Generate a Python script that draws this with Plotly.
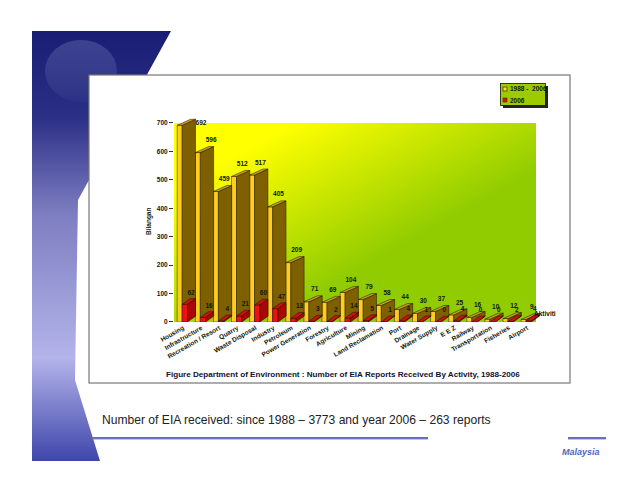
import base64
import plotly.graph_objects as go

categories = ["Housing", "Infrastructure", "Recreation / Resort", "Quarry", "Waste Disposal",
              "Industry", "Petroleum", "Power Generation", "Forestry", "Agriculture", "Mining",
              "Land Reclamation", "Port", "Drainage", "Water Supply", "E E Z", "Railway",
              "Transportation", "Fisheries", "Airport"]
total_1988_2006 = [692, 596, 459, 512, 517, 405, 209, 71, 69, 104, 79, 58, 44, 30, 37, 25, 16, 10, 12, 9]
year_2006 = [62, 16, 4, 21, 60, 47, 13, 3, 2, 14, 5, 1, 4, 1, 0, 4, 0, 0, 2, 4]
y_ticks = [0, 100, 200, 300, 400, 500, 600, 700]

W, H = 638, 493
LEFT, SLOT = 174.0, 18.1
Y0, PX_PER_UNIT = 322.0, 199.0 / 700
YMAX = 740
FONT = "Liberation Sans"
TXT = "#10180a"

def dx(px):
    return px / SLOT
def dy(px):
    return px / PX_PER_UNIT
def rel(px):
    return (px - SLOT / 2) / SLOT

svg = f'''<svg xmlns="http://www.w3.org/2000/svg" width="{W}" height="{H}" viewBox="0 0 {W} {H}">
<defs>
<linearGradient id="b" gradientUnits="userSpaceOnUse" x1="0" y1="31" x2="0" y2="461">
<stop offset="0" stop-color="#191d74"/><stop offset="0.2" stop-color="#2b2f85"/>
<stop offset="0.42" stop-color="#7c7cc0"/><stop offset="0.76" stop-color="#b4b4ea"/>
<stop offset="1" stop-color="#3e46aa"/></linearGradient>
<linearGradient id="c" gradientUnits="userSpaceOnUse" x1="0" y1="40" x2="0" y2="105">
<stop offset="0" stop-color="#3d4290"/><stop offset="0.7" stop-color="#343889"/><stop offset="1" stop-color="#2c3086"/></linearGradient>
<linearGradient id="g" gradientUnits="userSpaceOnUse" x1="200" y1="123" x2="300" y2="303">
<stop offset="0.22" stop-color="#ffff00"/><stop offset="1" stop-color="#90cc00"/></linearGradient>
</defs>
<rect width="{W}" height="{H}" fill="#ffffff"/>
<polygon points="32,31 171,31 78,200 75,380 100,461 32,461" fill="url(#b)"/>
<ellipse cx="81" cy="71" rx="36" ry="31" fill="url(#c)"/>
<rect x="89" y="75" width="481" height="308" fill="#ffffff" stroke="#777777" stroke-width="1.2"/>
<rect x="174" y="123" width="362" height="199" fill="url(#g)"/>
<rect x="503" y="86" width="45" height="22" fill="#222222"/>
<rect x="500.500" y="83.500" width="45" height="22" fill="#9ccc00" stroke="#111111" stroke-width="0.8"/>
<rect x="503" y="87" width="4" height="4" fill="#ffdd33" stroke="#333300" stroke-width="0.7"/>
<rect x="503" y="98" width="4" height="4" fill="#dd1111" stroke="#553300" stroke-width="0.7"/>
<rect x="92" y="437" width="336" height="2.4" fill="#6a70c0"/>
<rect x="568" y="437" width="38" height="2.4" fill="#6a70c0"/>
</svg>'''
bg = "data:image/svg+xml;base64," + base64.b64encode(svg.encode()).decode()

idx = list(range(len(categories)))

def prisms(values, x0_px, x1_px, x2_px, depth_px):
    side_x, side_y, top_x, top_y = [], [], [], []
    for i, v in zip(idx, values):
        x0, x1, x2 = i + rel(x0_px), i + rel(x1_px), i + rel(x2_px)
        d = dy(depth_px)
        side_x += [x1, x1, x2, x2, x1, None]
        side_y += [0, v, v + d, d, 0, None]
        top_x += [x0, x1, x2, x2 - (x1 - x0), x0, None]
        top_y += [v, v, v + d, v + d, v, None]
    return side_x, side_y, top_x, top_y

def poly(x, y, color, yaxis):
    return go.Scatter(x=x, y=y, mode="lines", fill="toself", fillcolor=color,
                      line=dict(color="#1a1200", width=0.5), hoverinfo="skip",
                      showlegend=False, yaxis=yaxis)

fig = go.Figure()
sx, sy, tx, ty = prisms(total_1988_2006, 3.2, 8.2, 21.5, 6)
fig.add_trace(go.Bar(x=idx, y=total_1988_2006, name="1988 - 2006", width=dx(5), offset=rel(3.2),
                     marker=dict(color="#ffcc22", line=dict(color="#332200", width=0.5)), showlegend=False))
fig.add_trace(poly(sx, sy, "#7f6000", "y"))
fig.add_trace(poly(tx, ty, "#c9a020", "y"))

sx, sy, tx, ty = prisms(year_2006, 8.2, 13.5, 21.5, 5.8)
fig.add_trace(go.Bar(x=idx, y=year_2006, name="2006", width=dx(5.3), offset=rel(8.2), yaxis="y2",
                     marker=dict(color="#ee1111", line=dict(color="#330000", width=0.4)), showlegend=False))
fig.add_trace(poly(sx, sy, "#a80808", "y2"))
fig.add_trace(poly(tx, ty, "#cc1010", "y2"))

# value labels sit a few pixels above the back edge of each prism
total_label_x = [i + rel(14) for i in idx]
total_label_y = [v + dy(12) for v in total_1988_2006]
total_label_x[0] = rel(27)
total_label_y[0] = 700
total_label_x[1] = 1 + rel(19)
fig.add_trace(go.Scatter(x=total_label_x, y=total_label_y, mode="text", text=[str(v) for v in total_1988_2006],
                         textfont=dict(family=FONT, size=6.5, color=TXT), texttemplate="<b>%{text}</b>",
                         hoverinfo="skip", showlegend=False, yaxis="y2", cliponaxis=False))
fig.add_trace(go.Scatter(x=[i + rel(17) for i in idx], y=[v + dy(11.5) for v in year_2006], mode="text",
                         text=[str(v) for v in year_2006], texttemplate="<b>%{text}</b>",
                         textfont=dict(family=FONT, size=6.5, color=TXT),
                         hoverinfo="skip", showlegend=False, yaxis="y2", cliponaxis=False))

def note(px, py, text, size=6.8, color=TXT, bold=True, anchor="left", angle=0, family=FONT, italic=False):
    s = f"<b>{text}</b>" if bold else text
    if italic:
        s = f"<i>{s}</i>"
    fig.add_annotation(x=px / W, y=1 - py / H, xref="paper", yref="paper", text=s, showarrow=False,
                       xanchor=anchor, yanchor="middle", textangle=angle,
                       font=dict(family=family, size=size, color=color))

note(508, 89, "1988 -&nbsp; 2006", 6.5)
note(508, 100, "2006", 6.5)
note(149, 222, "Bilangan", 6.5, anchor="center", angle=-90)
note(532, 313, "Aktiviti", 6.5)
note(164, 374, "Figure Department of Environment : Number of EIA Reports Received By Activity, 1988-2006", 8.1, color="#111133")
note(100, 420, "Number of EIA received: since 1988 – 3773 and year 2006 – 263 reports", 12.1, color="#222222", bold=False)
note(560, 452, "Malaysia", 9, color="#4a6cc0", italic=True)

fig.update_layout(
    template="none",
    width=W, height=H, margin=dict(l=0, r=0, t=0, b=0, pad=0), autosize=False,
    paper_bgcolor="rgba(0,0,0,0)", plot_bgcolor="rgba(0,0,0,0)", barmode="overlay",
    font=dict(family=FONT, size=7, color=TXT), showlegend=False,
    images=[dict(source=bg, xref="paper", yref="paper", x=0, y=1, sizex=1, sizey=1,
                 xanchor="left", yanchor="top", sizing="stretch", layer="below")],
    xaxis=dict(domain=[LEFT / W, (LEFT + 21 * SLOT) / W], range=[-0.5, 20.5], tickmode="array", automargin=False,
               tickvals=idx, ticktext=[f"<b>{c}</b>" for c in categories], tickangle=-30, showgrid=False,
               zeroline=False, ticks="", showline=False, tickfont=dict(family=FONT, size=6.5, color=TXT)),
    yaxis=dict(domain=[1 - Y0 / H, 1 - (Y0 - YMAX * PX_PER_UNIT) / H], range=[0, YMAX], tickmode="array", automargin=False,
               tickvals=y_ticks, ticktext=[f"<b>{t}</b>" for t in y_ticks], ticks="outside", ticklen=4,
               tickcolor="#333333", showgrid=False, zeroline=False, showline=False,
               tickfont=dict(family=FONT, size=6.5, color=TXT)),
    yaxis2=dict(overlaying="y", matches="y", visible=False),
)

fig.write_html("out.html", config=dict(displayModeBar=False),
               post_script="document.body.style.margin='0';document.body.style.overflow='hidden';")
